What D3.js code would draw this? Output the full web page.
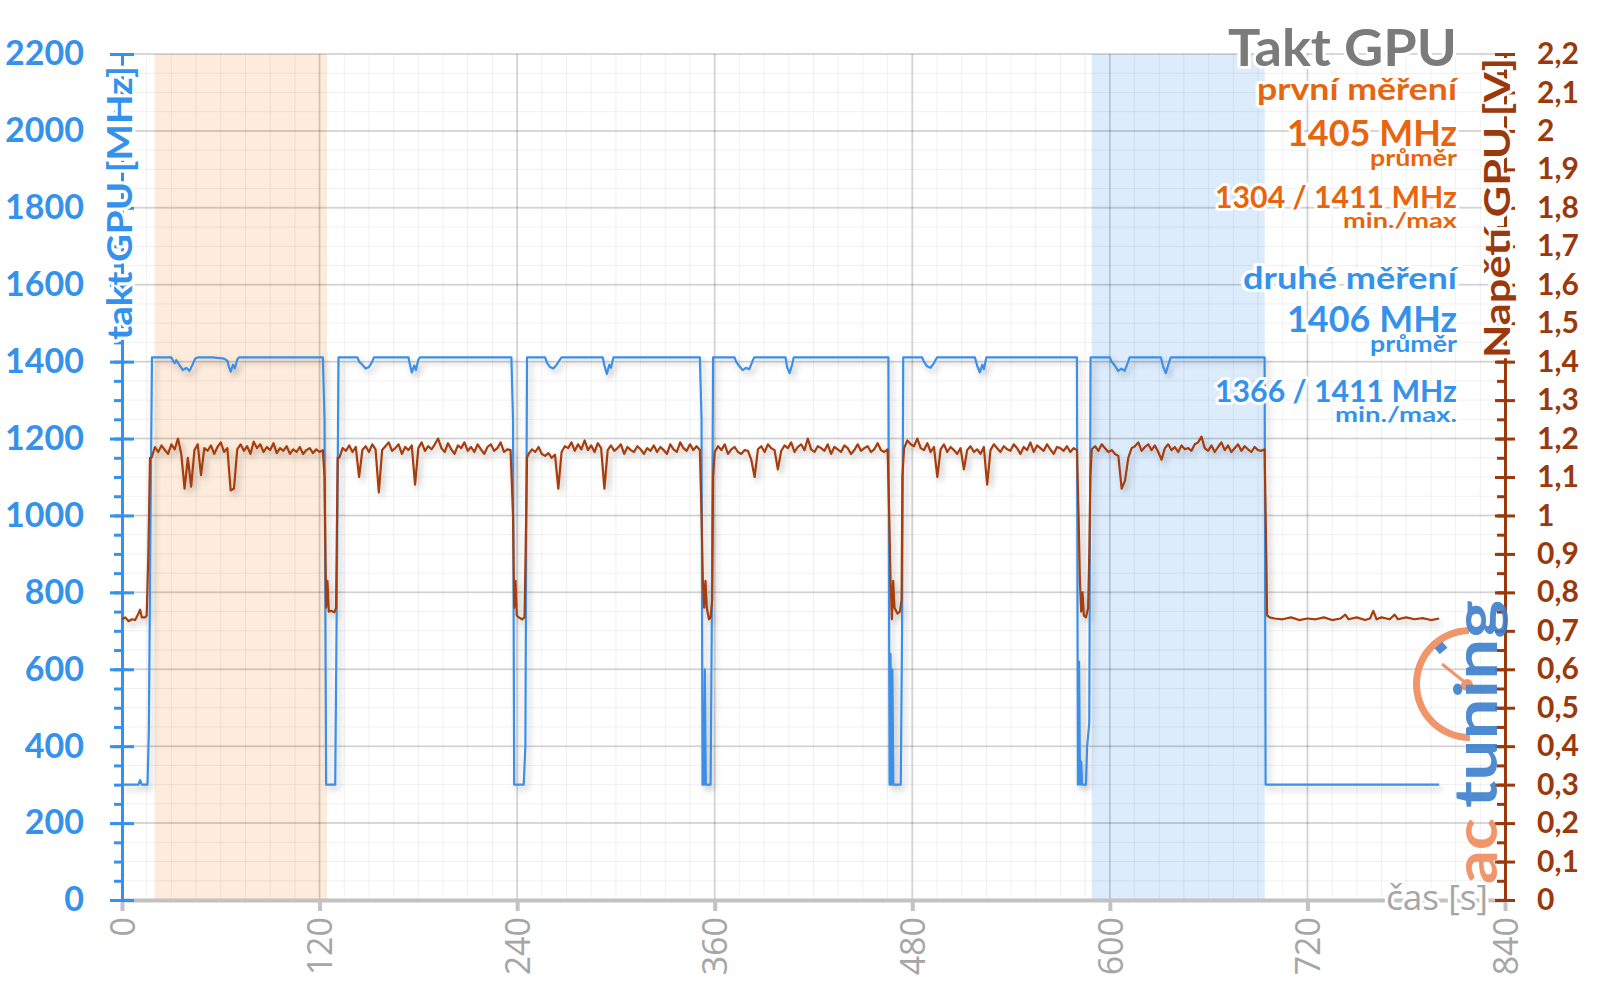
<!DOCTYPE html>
<html>
<head>
<meta charset="utf-8">
<script src="https://cdn.jsdelivr.net/npm/d3@7.9.0/dist/d3.min.js"></script>
<style>
  body { margin: 0; background: #fff; }
  svg { display: block; }
</style>
</head>
<body>
<svg id="chart" width="1600" height="999"></svg>
<script>
// axis ticks
const timeTicks = [0, 120, 240, 360, 480, 600, 720, 840];
const clockTicks = [0, 200, 400, 600, 800, 1000, 1200, 1400, 1600, 1800, 2000, 2200];
const voltTicks = [0, 0.1, 0.2, 0.3, 0.4, 0.5, 0.6, 0.7, 0.8, 0.9, 1, 1.1, 1.2, 1.3, 1.4,
  1.5, 1.6, 1.7, 1.8, 1.9, 2, 2.1, 2.2];

// highlighted test windows [from, to] in seconds
const bandFirst = [19.8, 124.4];
const bandSecond = [589, 694];

// GPU clock, [time s, MHz]
const clockMHz = [
  [0, 300], [10, 300], [11, 312], [12, 300], [15.5, 300], [16.3, 440], [17.2, 930], [18.2, 1411],
  [30, 1411], [31, 1402], [32, 1396], [33, 1404], [35, 1390], [37, 1378], [39, 1384], [41, 1376],
  [43, 1394], [44.5, 1408], [46, 1411], [55, 1411], [62, 1408], [64, 1402], [65, 1386], [66, 1374],
  [67.5, 1392], [68.5, 1382], [70, 1405], [71, 1411],
  [122, 1411], [123, 1250], [124, 300], [129.5, 300], [130.5, 800], [131.5, 1411],
  [143, 1411], [144, 1400], [146, 1392], [148, 1382], [150, 1386], [152, 1400], [153, 1411],
  [174, 1411], [175, 1390], [176, 1372], [177.5, 1390], [178.5, 1378], [180, 1405], [181, 1411],
  [236.5, 1411], [237.5, 1250], [238.2, 300], [244, 300], [245, 400], [246, 1411],
  [257, 1411], [258, 1398], [260, 1386], [262, 1382], [264, 1392], [266, 1405], [267, 1411],
  [292, 1411], [293, 1390], [294.5, 1368], [296, 1392], [297, 1384], [298.5, 1411],
  [351, 1411], [352, 1250], [352.6, 300], [353.4, 300], [354, 600], [354.6, 300], [357.5, 300],
  [358.2, 700], [359, 1411],
  [372, 1411], [373, 1400], [375, 1388], [377, 1378], [379, 1384], [381, 1380], [383, 1402], [384, 1411],
  [403, 1411], [404, 1385], [405.5, 1370], [407, 1392], [408, 1411],
  [465.5, 1411], [466.2, 300], [466.8, 640], [467.3, 300], [467.9, 600], [468.5, 300], [473, 300],
  [473.8, 700], [474.5, 1411],
  [486, 1411], [487, 1400], [489, 1388], [491, 1384], [493, 1395], [495, 1411],
  [518, 1411], [519.5, 1388], [521, 1372], [522.5, 1392], [523.5, 1380], [525, 1411],
  [580, 1411], [580.6, 300], [581.3, 620], [581.9, 300], [582.6, 360], [583.2, 300], [585.5, 300],
  [586.2, 400], [587.5, 460], [588.3, 1411],
  [600, 1411], [601, 1400], [603, 1390], [605, 1376], [607, 1382], [609, 1376], [611, 1398], [612, 1411],
  [631, 1411], [632.5, 1385], [634, 1370], [635.5, 1392], [637, 1411],
  [694, 1411], [694.6, 300], [800, 300]
];

// GPU voltage in mV
const voltIdleStart = [
  [0, 730], [2, 735], [4, 725], [6, 730], [8, 728], [10, 745], [11, 755], [12, 735],
  [14, 735], [15, 740], [16, 900], [17, 1150]
];
// loaded runs, sampled evenly from start to end
const voltLoadStart = [18, 132, 247, 360, 475, 589];
const voltLoadEnd = [122, 236, 351, 465, 580, 694];
const voltLoad = [
  [1150, 1178, 1165, 1182, 1170, 1160, 1185, 1172, 1200, 1160, 1070, 1150, 1075, 1170, 1185, 1105,
   1175, 1168, 1182, 1160, 1178, 1190, 1165, 1175, 1065, 1070, 1172, 1185, 1168, 1180, 1160, 1192,
   1175, 1185, 1165, 1178, 1170, 1188, 1162, 1175, 1168, 1180, 1160, 1172, 1165, 1178, 1160, 1170,
   1175, 1162, 1172, 1165, 1170],
  [1150, 1175, 1168, 1182, 1165, 1178, 1100, 1170, 1180, 1165, 1185, 1172, 1060, 1170, 1180, 1190,
   1168, 1175, 1185, 1160, 1178, 1170, 1182, 1080, 1175, 1190, 1168, 1180, 1172, 1185, 1200, 1175,
   1165, 1188, 1172, 1160, 1182, 1175, 1190, 1168, 1178, 1165, 1185, 1172, 1160, 1178, 1185, 1168,
   1175, 1190, 1165, 1172, 1170],
  [1160, 1172, 1165, 1178, 1160, 1155, 1162, 1150, 1158, 1070, 1165, 1180, 1175, 1190, 1168, 1185,
   1172, 1195, 1170, 1182, 1165, 1188, 1175, 1070, 1170, 1182, 1168, 1175, 1185, 1160, 1178, 1170,
   1165, 1180, 1172, 1160, 1175, 1168, 1182, 1165, 1178, 1170, 1160, 1185, 1172, 1165, 1190, 1175,
   1168, 1185, 1170, 1180, 1170],
  [1165, 1180, 1170, 1185, 1160, 1172, 1178, 1165, 1160, 1170, 1168, 1145, 1100, 1172, 1180, 1165,
   1185, 1175, 1170, 1120, 1168, 1182, 1175, 1190, 1165, 1178, 1185, 1170, 1200, 1172, 1165, 1180,
   1175, 1168, 1185, 1160, 1178, 1172, 1165, 1182, 1175, 1160, 1170, 1185, 1168, 1175, 1180, 1165,
   1172, 1188, 1170, 1165, 1172],
  [1175, 1195, 1185, 1180, 1200, 1175, 1170, 1188, 1165, 1178, 1100, 1172, 1185, 1165, 1178, 1170,
   1160, 1175, 1120, 1170, 1180, 1165, 1172, 1160, 1178, 1080, 1170, 1185, 1175, 1165, 1180, 1172,
   1168, 1185, 1175, 1160, 1178, 1170, 1190, 1165, 1182, 1175, 1168, 1185, 1172, 1160, 1178, 1175,
   1168, 1180, 1165, 1175, 1170],
  [1172, 1180, 1168, 1185, 1175, 1165, 1170, 1160, 1155, 1070, 1090, 1150, 1175, 1180, 1190, 1168,
   1178, 1185, 1170, 1182, 1165, 1145, 1175, 1185, 1170, 1178, 1165, 1182, 1172, 1175, 1168, 1185,
   1190, 1205, 1175, 1168, 1182, 1165, 1178, 1190, 1170, 1182, 1165, 1175, 1185, 1168, 1180, 1172,
   1165, 1178, 1170, 1168, 1172]
];
// pauses after each loaded run, [time s, mV]
const voltBetween = [
  [[123, 1100], [124, 760], [124.8, 830], [125.6, 750], [127, 752], [129, 748], [130, 760], [131, 1150]],
  [[237.5, 1000], [238.2, 760], [239, 830], [239.8, 740], [241, 735], [243, 730], [244.5, 735],
   [245.5, 1000], [246, 1150]],
  [[352, 1000], [352.8, 830], [353.6, 760], [354.4, 830], [355.2, 760], [356.5, 730], [357.5, 735],
   [358.5, 780], [359, 1100]],
  [[466, 1000], [466.8, 830], [467.6, 730], [468.4, 830], [469.2, 760], [471, 745], [472.5, 750],
   [473.5, 780], [474, 1100]],
  [[581, 1000], [581.8, 830], [582.6, 750], [583.4, 800], [584.2, 740], [585.5, 735], [586.8, 760],
   [587.5, 900], [588.2, 1100]],
  [[695, 900], [695.5, 740], [697, 735], [700, 732], [705, 730], [710, 735], [715, 728], [720, 732],
   [725, 730], [730, 735], [735, 728], [740, 732], [743, 742], [745, 730], [750, 735], [755, 728],
   [758, 732], [760, 752], [762, 730], [765, 735], [770, 730], [773, 742], [775, 730], [780, 735],
   [785, 730], [790, 733], [795, 728], [800, 732]]
];

const voltage = voltIdleStart.map(([t, mv]) => ({ t, v: mv / 1000 }));
voltLoad.forEach((run, k) => {
  const step = (voltLoadEnd[k] - voltLoadStart[k]) / (run.length - 1);
  run.forEach((mv, i) => voltage.push({ t: voltLoadStart[k] + i * step, v: mv / 1000 }));
  voltBetween[k].forEach(([t, mv]) => voltage.push({ t, v: mv / 1000 }));
});
const clock = clockMHz.map(([t, f]) => ({ t, f }));

const blue = '#3592ec';
const brown = '#9a3a0c';
const orange = '#e8650f';
const gray = '#a6a6a6';
const bold = 'Lato, "Noto Sans", sans-serif';

const svg = d3.select('#chart');

const x = d3.scaleLinear().domain([0, 840]).range([122, 1505]);
const yClock = d3.scaleLinear().domain([0, 2200]).range([900, 54]);
const yVolt = d3.scaleLinear().domain([0, 2.2]).range([900, 54]);

const cz = d3.formatLocale({ decimal: ',', thousands: '', grouping: [3], currency: ['', ' Kč'] });
const fmtVolt = cz.format('.1~f');

// filters
const defs = svg.append('defs');
defs.append('filter')
  .attr('id', 'shadow')
  .attr('filterUnits', 'userSpaceOnUse')
  .attr('x', 0).attr('y', 0).attr('width', 1600).attr('height', 999)
  .append('feDropShadow')
  .attr('dx', 3).attr('dy', 4).attr('stdDeviation', 3)
  .attr('flood-color', '#000').attr('flood-opacity', 0.25);

// bands
svg.append('rect')
  .attr('x', x(bandFirst[0])).attr('width', x(bandFirst[1]) - x(bandFirst[0]))
  .attr('y', yClock(2200)).attr('height', yClock(0) - yClock(2200))
  .attr('fill', '#fdebdb');
svg.append('rect')
  .attr('x', x(bandSecond[0])).attr('width', x(bandSecond[1]) - x(bandSecond[0]))
  .attr('y', yClock(2200)).attr('height', yClock(0) - yClock(2200))
  .attr('fill', '#dcecfd');

// grid
const grid = svg.append('g');
grid.selectAll('.hmin').data(d3.range(0, 2201, 50)).join('line')
  .attr('x1', x(0)).attr('x2', x(840))
  .attr('y1', d => yClock(d)).attr('y2', d => yClock(d))
  .attr('stroke', '#000').attr('stroke-opacity', 0.06).attr('stroke-width', 1);
grid.selectAll('.vmin').data(d3.range(0, 841, 15)).join('line')
  .attr('y1', yClock(0)).attr('y2', yClock(2200))
  .attr('x1', d => x(d)).attr('x2', d => x(d))
  .attr('stroke', '#000').attr('stroke-opacity', 0.06).attr('stroke-width', 1);
grid.selectAll('.hmaj').data(clockTicks).join('line')
  .attr('x1', x(0)).attr('x2', x(840))
  .attr('y1', d => yClock(d)).attr('y2', d => yClock(d))
  .attr('stroke', '#000').attr('stroke-opacity', 0.13).attr('stroke-width', 2);
grid.selectAll('.vmaj').data(timeTicks).join('line')
  .attr('y1', yClock(0)).attr('y2', yClock(2200))
  .attr('x1', d => x(d)).attr('x2', d => x(d))
  .attr('stroke', '#000').attr('stroke-opacity', 0.13).attr('stroke-width', 2);

// x axis
const gx = svg.append('g')
  .attr('transform', `translate(0,${yClock(0)})`)
  .call(d3.axisBottom(x).tickValues(timeTicks).tickSize(11).tickSizeOuter(0));
gx.select('.domain').attr('stroke', '#c2c2c2').attr('stroke-width', 4);
gx.selectAll('.tick line').attr('stroke', '#c2c2c2').attr('stroke-width', 4);
gx.selectAll('.tick text')
  .attr('transform', 'rotate(-90)')
  .attr('x', -17).attr('y', 0).attr('dy', '0.36em')
  .attr('text-anchor', 'end')
  .attr('fill', gray)
  .style('font', '34px "Open Sans", sans-serif');

// left axis
const gl = svg.append('g').attr('transform', `translate(${x(0)},0)`);
gl.append('g')
  .call(d3.axisLeft(yClock).tickValues(d3.range(0, 2201, 50)).tickSize(8).tickFormat(''))
  .call(g => g.select('.domain').remove())
  .selectAll('line').attr('stroke', blue).attr('stroke-width', 3);
const glMaj = gl.append('g')
  .call(d3.axisLeft(yClock).tickValues(clockTicks).tickFormat(d3.format('d'))
    .tickSize(12).tickPadding(26).tickSizeOuter(0));
glMaj.select('.domain').attr('stroke', blue).attr('stroke-width', 3);
glMaj.selectAll('.tick line').attr('x1', 12).attr('stroke', blue).attr('stroke-width', 3);
glMaj.selectAll('.tick text')
  .attr('fill', blue)
  .style('font', `bold 34px ${bold}`);

// right axis
const gr = svg.append('g').attr('transform', `translate(${x(840)},0)`);
gr.append('g')
  .call(d3.axisLeft(yVolt).tickValues(d3.range(0, 45).map(i => i * 0.05)).tickSize(8).tickFormat(''))
  .call(g => g.select('.domain').remove())
  .selectAll('line').attr('stroke', brown).attr('stroke-width', 3);
const grMaj = gr.append('g')
  .call(d3.axisRight(yVolt).tickValues(voltTicks).tickFormat(fmtVolt)
    .tickSize(10).tickPadding(22).tickSizeOuter(0));
grMaj.select('.domain').attr('stroke', brown).attr('stroke-width', 3);
grMaj.selectAll('.tick line').attr('x1', -10).attr('stroke', brown).attr('stroke-width', 3);
grMaj.selectAll('.tick text')
  .attr('fill', brown)
  .style('font', `bold 30px ${bold}`);

// lines
const clockLine = d3.line().x(d => x(d.t)).y(d => yClock(d.f));
const voltLine = d3.line().x(d => x(d.t)).y(d => yVolt(d.v));
const plot = svg.append('g').attr('filter', 'url(#shadow)');
plot.append('path').datum(clock)
  .attr('d', clockLine).attr('fill', 'none')
  .attr('stroke', '#3a8fe6').attr('stroke-width', 2.2).attr('stroke-linejoin', 'round');
plot.append('path').datum(voltage)
  .attr('d', voltLine).attr('fill', 'none')
  .attr('stroke', '#a53c0c').attr('stroke-width', 2.2).attr('stroke-linejoin', 'round');

// text helper with white halo
function label(txt, px, py, size, color, opts = {}) {
  const t = svg.append('text')
    .attr('x', px).attr('y', py)
    .attr('text-anchor', opts.anchor || 'end')
    .attr('fill', color)
    .attr('stroke', '#fff').attr('stroke-width', opts.halo || 6)
    .attr('stroke-linejoin', 'round')
    .attr('paint-order', 'stroke')
    .style('font', `${opts.weight || 'bold'} ${size}px ${opts.family || bold}`)
    .text(txt);
  if (opts.len) t.attr('textLength', opts.len).attr('lengthAdjust', 'spacingAndGlyphs');
  if (opts.transform) t.attr('transform', opts.transform);
  return t;
}

// axis titles
label('takt GPU [MHz]', 0, 0, 35, blue, {
  len: 274, transform: `translate(${x(0) - 3},66) rotate(-90)`
}).attr('dy', '0.36em');
label('Napětí GPU [V]', 0, 0, 36, brown, {
  len: 300, transform: `translate(${x(840) - 8},58) rotate(-90)`
}).attr('dy', '0.36em');
label('čas [s]', 1488, 910, 34, gray, { weight: 'normal', family: '"Open Sans", sans-serif', len: 102 });

// summary texts
const rx = 1457;
label('Takt GPU', rx, 66, 52, '#7b7b7b', { len: 229 });
label('první měření', rx, 100, 30, orange, { len: 200 });
label('1405 MHz', rx, 146, 37, orange, { len: 170 });
label('průměr', rx, 166, 22, orange, { len: 87, halo: 4 });
label('1304 / 1411 MHz', rx, 208, 30, orange, { len: 242 });
label('min./max', rx, 228, 21, orange, { len: 114, halo: 4 });
label('druhé měření', rx, 289, 30, blue, { len: 214 });
label('1406 MHz', rx, 332, 37, blue, { len: 170 });
label('průměr', rx, 352, 22, blue, { len: 87, halo: 4 });
label('1366 / 1411 MHz', rx, 402, 30, blue, { len: 242 });
label('min./max.', rx, 422, 21, blue, { len: 122, halo: 4 });

// watermark logo
const logo = svg.append('g').attr('opacity', 0.9);
logo.append('path')
  .attr('transform', 'translate(1470,684)')
  .attr('d', d3.arc().innerRadius(50).outerRadius(57).startAngle(-Math.PI).endAngle(-0.02)())
  .attr('fill', '#f08a5a');
logo.append('rect')
  .attr('x', -5).attr('y', -4).attr('width', 10).attr('height', 8)
  .attr('transform', 'translate(1441,648) rotate(-40)')
  .attr('fill', '#3d7fcc');
logo.append('line')
  .attr('x1', 1442).attr('y1', 664).attr('x2', 1467).attr('y2', 684)
  .attr('stroke', '#f08a5a').attr('stroke-width', 3);
logo.append('circle').attr('cx', 1467).attr('cy', 685).attr('r', 6).attr('fill', '#f08a5a');
logo.append('text')
  .attr('transform', 'translate(1497,808) rotate(-90)')
  .attr('fill', '#3d7fcc')
  .attr('textLength', 208).attr('lengthAdjust', 'spacingAndGlyphs')
  .style('font', `bold 60px ${bold}`)
  .text('tuning');
logo.append('text')
  .attr('transform', 'translate(1497,884) rotate(-90)')
  .attr('fill', '#f08a5a')
  .attr('textLength', 66).attr('lengthAdjust', 'spacingAndGlyphs')
  .style('font', `bold 60px ${bold}`)
  .text('ac');
</script>
</body>
</html>
